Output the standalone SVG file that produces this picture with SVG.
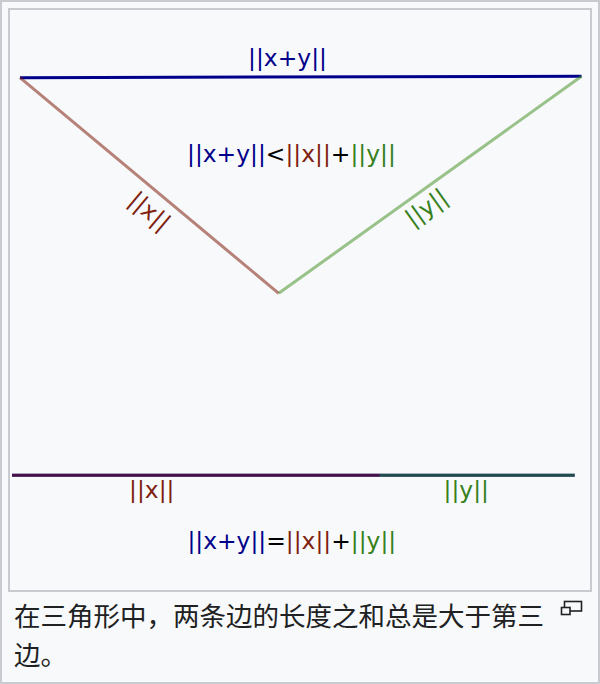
<svg xmlns="http://www.w3.org/2000/svg" width="600" height="684" viewBox="0 0 600 684">
  <style>
    .lbl { font-family: "DejaVu Sans", "Noto Sans", sans-serif; font-size: 23.4px; }
    .n { fill: #00008b; }
    .r { fill: #7f1f0f; }
    .g { fill: #36801c; }
    .k { fill: #000000; }
    .cap { font-family: "Noto Sans CJK SC", "Noto Sans", sans-serif; font-size: 26.5px; fill: #202122; }
    .frame { fill: none; stroke: #c8ccd1; stroke-width: 2; }
  </style>
  <rect x="0" y="0" width="600" height="684" fill="#f8f9fa"/>
  <rect class="frame" x="1" y="1" width="598" height="682"/>
  <rect class="frame" x="9" y="9" width="582" height="582"/>

  <g id="connectors" fill="none" stroke-width="3">
    <line id="side-xy" x1="20" y1="77.7" x2="581.5" y2="76.3" stroke="#00008b"/>
    <line id="side-x" x1="20" y1="77.7" x2="278.7" y2="293.3" stroke="#7f1f0f" stroke-opacity="0.55"/>
    <line id="side-y" x1="278.7" y1="293.3" x2="581.5" y2="76.3" stroke="#3a8a1a" stroke-opacity="0.5"/>
    <line id="flat-xy" x1="12" y1="475.2" x2="574.7" y2="475.2" stroke="#00008b"/>
    <line id="flat-x" x1="12" y1="475.2" x2="379.5" y2="475.2" stroke="#7f1f0f" stroke-opacity="0.55"/>
    <line id="flat-y" x1="379.5" y1="475.2" x2="574.7" y2="475.2" stroke="#3a8a1a" stroke-opacity="0.55"/>
  </g>

  <g id="label-top">
    <text class="lbl n" x="287.5" y="65.5" text-anchor="middle">||x+y||</text>
  </g>
  <g id="label-ineq">
    <text class="lbl" x="291.4" y="161.5" text-anchor="middle"><tspan class="n">||x+y||</tspan><tspan class="k">&lt;</tspan><tspan class="r">||x||</tspan><tspan class="k">+</tspan><tspan class="g">||y||</tspan></text>
  </g>
  <g id="label-x" transform="translate(148.5,212.5) rotate(40)">
    <text class="lbl r" x="0" y="6.1" text-anchor="middle">||x||</text>
  </g>
  <g id="label-y" transform="translate(427.5,209) rotate(-35.6)">
    <text class="lbl g" x="0" y="6.1" text-anchor="middle">||y||</text>
  </g>
  <g id="label-flat-x">
    <text class="lbl r" x="151.8" y="497.8" text-anchor="middle">||x||</text>
  </g>
  <g id="label-flat-y">
    <text class="lbl g" x="466.3" y="497.8" text-anchor="middle">||y||</text>
  </g>
  <g id="label-eq">
    <text class="lbl" x="291.8" y="548.8" text-anchor="middle"><tspan class="n">||x+y||</tspan><tspan class="k">=</tspan><tspan class="r">||x||</tspan><tspan class="k">+</tspan><tspan class="g">||y||</tspan></text>
  </g>

  <g id="caption">
    <text class="cap" x="14" y="625.5">在三角形中，两条边的长度之和总是大于第三</text>
    <text class="cap" x="14" y="665">边。</text>
  </g>
  <g id="magnify" fill="#f8f9fa" stroke="#202122" stroke-width="1.6">
    <rect x="564.5" y="601.5" width="17" height="9.5"/>
    <rect x="561.5" y="607.5" width="8.5" height="7"/>
  </g>
</svg>
